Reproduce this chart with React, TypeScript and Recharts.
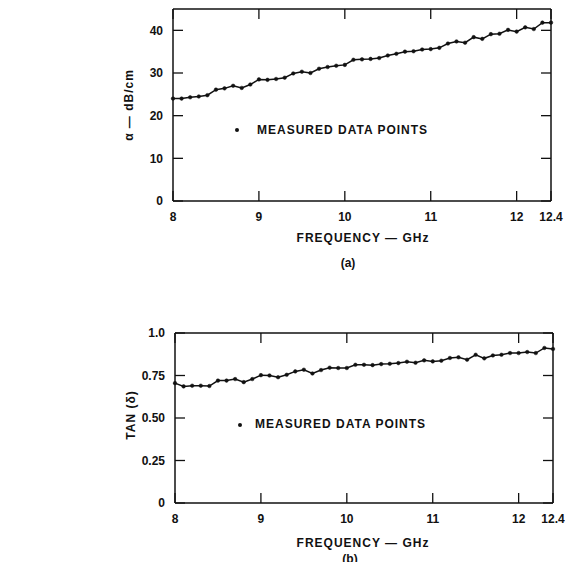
import React from 'react';
import { LineChart, Line, XAxis, YAxis } from 'recharts';

// Attenuation (a) and loss tangent (b) vs frequency, 8 - 12.4 GHz

const freq = [
  8.0, 8.1, 8.2, 8.3, 8.4, 8.5, 8.6, 8.7, 8.8, 8.9,
  9.0, 9.1, 9.2, 9.3, 9.4, 9.5, 9.6, 9.7, 9.8, 9.9,
  10.0, 10.1, 10.2, 10.3, 10.4, 10.5, 10.6, 10.7, 10.8, 10.9,
  11.0, 11.1, 11.2, 11.3, 11.4, 11.5, 11.6, 11.7, 11.8, 11.9,
  12.0, 12.1, 12.2, 12.3, 12.4,
];

const alpha = [
  24.0, 24.0, 24.3, 24.5, 24.8, 26.1, 26.4, 27.0, 26.5, 27.3,
  28.5, 28.4, 28.6, 28.9, 29.9, 30.3, 30.0, 31.0, 31.4, 31.7,
  31.9, 33.1, 33.2, 33.3, 33.5, 34.1, 34.5, 35.0, 35.1, 35.5,
  35.6, 35.9, 36.9, 37.4, 37.1, 38.4, 38.0, 39.1, 39.2, 40.1,
  39.7, 40.7, 40.3, 41.8, 41.8,
];

const tanDelta = [
  0.705, 0.686, 0.69, 0.69, 0.688, 0.72, 0.72, 0.729, 0.711, 0.729,
  0.752, 0.75, 0.74, 0.754, 0.774, 0.784, 0.762, 0.782, 0.796, 0.794,
  0.794, 0.813, 0.813, 0.811, 0.817, 0.819, 0.823, 0.831, 0.825, 0.839,
  0.833, 0.837, 0.853, 0.857, 0.843, 0.872, 0.851, 0.868, 0.872, 0.882,
  0.882, 0.888, 0.882, 0.912, 0.906,
];

const xTicks = [8, 9, 10, 11, 12, 12.4];
const yTicksA = [0, 10, 20, 30, 40];
const yTicksB = [0, 0.25, 0.5, 0.75, 1.0];
const yTickLabelsB = ['0', '0.25', '0.50', '0.75', '1.0'];

const dataA = freq.map((f, i) => ({ f, v: alpha[i] }));
const dataB = freq.map((f, i) => ({ f, v: tanDelta[i] }));

const FONT = '"Liberation Sans", Arial, sans-serif';
const INK = '#111';
const al = { stroke: INK, strokeWidth: 1.5 };
const tl = { stroke: INK, strokeWidth: 1.3 };

// tick text styling; top/right axes only frame the plot, so their labels are hidden
const css = `
.recharts-cartesian-axis-tick-value { font-family: ${FONT}; font-weight: 700; font-size: 12px; fill: #111; }
.frame-axis .recharts-cartesian-axis-tick-value,
text[orientation="top"],
text[orientation="right"] { display: none; }
`;

const textBase: React.CSSProperties = {
  position: 'absolute',
  fontFamily: FONT,
  fontWeight: 700,
  fontSize: 12,
  color: INK,
  whiteSpace: 'nowrap',
  letterSpacing: 1,
  lineHeight: '14px',
};

function Panel({
  data,
  height,
  margin,
  yDomain,
  yTicks,
  yFormat,
}: {
  data: { f: number; v: number }[];
  height: number;
  margin: { top: number; right: number; left: number; bottom: number };
  yDomain: [number, number];
  yTicks: number[];
  yFormat?: (v: number) => string;
}) {
  return (
    <LineChart width={573} height={height} data={data} margin={margin}>
      <XAxis xAxisId="b" dataKey="f" type="number" domain={[8, 12.4]} ticks={xTicks} height={30} tickSize={-10} tickMargin={21} axisLine={al} tickLine={tl} />
      <XAxis xAxisId="t" className="frame-axis" orientation="top" dataKey="f" type="number" domain={[8, 12.4]} ticks={xTicks} height={1} tickSize={-10} axisLine={al} tickLine={tl} />
      <YAxis yAxisId="l" type="number" domain={yDomain} ticks={yTicks} width={40} tickSize={-10} tickMargin={20} tickFormatter={yFormat} axisLine={al} tickLine={tl} />
      <YAxis yAxisId="r" className="frame-axis" orientation="right" type="number" domain={yDomain} ticks={yTicks} width={10} tickSize={-10} axisLine={al} tickLine={tl} />
      {/* invisible twin so the top/right frame axes get a domain */}
      <Line xAxisId="t" yAxisId="r" dataKey="v" stroke="none" dot={false} isAnimationActive={false} />
      <Line
        xAxisId="b"
        yAxisId="l"
        dataKey="v"
        stroke={INK}
        strokeWidth={1.5}
        dot={{ r: 1.8, fill: INK, stroke: INK, strokeWidth: 0.5 }}
        isAnimationActive={false}
      />
    </LineChart>
  );
}

const Dot = ({ x, y }: { x: number; y: number }) => (
  <div style={{ position: 'absolute', left: x - 2, top: y - 2, width: 4, height: 4, borderRadius: 2, background: INK }} />
);

export default function App() {
  return (
    <div style={{ position: 'relative', width: 573, height: 570, margin: -8, background: '#fff' }}>
      <style>{css}</style>
      <Panel
        data={dataA}
        height={320}
        margin={{ top: 8, right: 12, left: 133, bottom: 89 }}
        yDomain={[0, 45]}
        yTicks={yTicksA}
      />
      <Panel
        data={dataB}
        height={240}
        margin={{ top: 12, right: 10, left: 135, bottom: 27 }}
        yDomain={[0, 1]}
        yTicks={yTicksB}
        yFormat={(v) => yTickLabelsB[yTicksB.indexOf(v)] ?? String(v)}
      />

      {/* axis titles */}
      <div style={{ ...textBase, left: 129, top: 105, transform: 'translate(-50%,-50%) rotate(-90deg)' }}>
        α — dB/cm
      </div>
      <div style={{ ...textBase, left: 131, top: 415, transform: 'translate(-50%,-50%) rotate(-90deg)' }}>
        TAN (δ)
      </div>
      <div style={{ ...textBase, left: 363, top: 238, transform: 'translate(-50%,-50%)' }}>
        FREQUENCY — GHz
      </div>
      <div style={{ ...textBase, left: 348, top: 263, transform: 'translate(-50%,-50%)', letterSpacing: 0 }}>
        (a)
      </div>
      <div style={{ ...textBase, left: 363, top: 543, transform: 'translate(-50%,-50%)' }}>
        FREQUENCY — GHz
      </div>
      <div style={{ ...textBase, left: 350, top: 559, transform: 'translate(-50%,-50%)', letterSpacing: 0 }}>
        (b)
      </div>

      {/* in-plot legends */}
      <Dot x={237} y={130} />
      <div style={{ ...textBase, left: 257, top: 130, transform: 'translateY(-50%)' }}>
        MEASURED DATA POINTS
      </div>
      <Dot x={240} y={425} />
      <div style={{ ...textBase, left: 255, top: 424, transform: 'translateY(-50%)' }}>
        MEASURED DATA POINTS
      </div>
    </div>
  );
}
